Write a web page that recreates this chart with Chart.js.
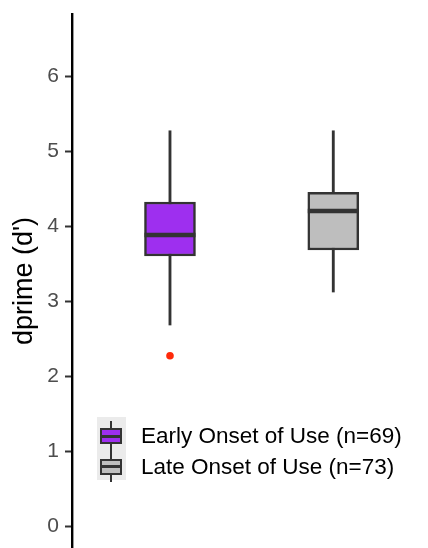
<!DOCTYPE html>
<html>
<head>
<meta charset="utf-8">
<script src="https://cdn.jsdelivr.net/npm/chart.js@4"></script>
<style>
  html, body { margin: 0; padding: 0; background: #fff; }
  #wrap { position: relative; width: 428px; height: 548px; }
  #legendBg { position: absolute; left: 97px; top: 417px; width: 29px; height: 63px; background: #ebebeb; }
  #legend { position: absolute; left: 97px; top: 421px; font-family: "Liberation Sans", Arial, sans-serif; font-size: 22.5px; color: #000; }
  .item { position: relative; height: 30.5px; display: flex; align-items: center; }
  .key { position: relative; width: 29px; height: 30.5px; }
  .key .whisk { position: absolute; left: 13px; top: 0; width: 2px; height: 30.5px; background: #333; }
  .key .box { position: absolute; left: 3px; top: 7px; width: 22px; height: 16px; box-sizing: border-box; border: 2px solid #333; }
  .key .med { position: absolute; left: 3px; top: 13.5px; width: 22px; height: 3px; background: #333; }
  .lab { margin-left: 15px; line-height: 30.5px; }
</style>
</head>
<body>
<div id="wrap">
  <canvas id="boxChart" width="428" height="548"></canvas>
  <div id="legendBg"></div>
  <div id="legend"></div>
</div>
<script>
// groups and their five-number summaries
const groups = ['Early Onset of Use (n=69)', 'Late Onset of Use (n=73)'];
const groupColors = ['#9e2fef', '#bebebe'];
const positions = [1, 2];
const lowerWhisker = [2.68, 3.12];
const q1 = [3.60, 3.68];
const medians = [3.88, 4.20];
const q3 = [4.32, 4.45];
const upperWhisker = [5.27, 5.27];
// points beyond the whiskers
const outlierPos = [1];
const outlierValues = [2.27];
const yTicks = [0, 1, 2, 3, 4, 5, 6];

const boxes = positions.map((x, i) => ({x: x, y: [q1[i], q3[i]]}));
const whiskers = positions.map((x, i) => ({x: x, y: [lowerWhisker[i], upperWhisker[i]]}));
const medianPts = positions.map((x, i) => ({x: x, y: medians[i]}));
const outlierPts = outlierPos.map((x, i) => ({x: x, y: outlierValues[i]}));

const ctx = document.getElementById('boxChart').getContext('2d');
const boxChart = new Chart(ctx, {
  type: 'bar',
  data: {
    datasets: [
      {
        type: 'line',
        label: 'median',
        data: medianPts,
        showLine: false,
        pointStyle: 'line',
        pointRadius: 25.5,
        pointBorderWidth: 4.5,
        pointBorderColor: '#333333',
        order: 0
      },
      {
        type: 'line',
        label: 'outlier',
        data: outlierPts,
        showLine: false,
        pointRadius: 3.8,
        pointBackgroundColor: '#ff2a0a',
        pointBorderWidth: 0,
        order: 0
      },
      {
        label: 'box',
        data: boxes,
        grouped: false,
        backgroundColor: groupColors,
        borderColor: '#333333',
        borderWidth: 2.5,
        borderSkipped: false,
        barThickness: 51,
        order: 1
      },
      {
        label: 'whisker',
        data: whiskers,
        grouped: false,
        backgroundColor: '#333333',
        borderWidth: 0,
        barThickness: 2.2,
        order: 2
      }
    ]
  },
  options: {
    responsive: false,
    animation: false,
    layout: { autoPadding: false, padding: { left: 0, top: 14, right: 0, bottom: 0 } },
    plugins: {
      legend: { display: false },
      tooltip: { enabled: false }
    },
    scales: {
      x: {
        type: 'linear',
        display: false,
        offset: false,
        min: 0.4,
        max: 2.58,
        grid: { offset: false }
      },
      y: {
        min: -0.293,
        max: 6.827,
        afterFit: function(scale) {
          scale.width = 72;
          scale.paddingTop = 0;
          scale.paddingBottom = 0;
        },
        afterBuildTicks: function(scale) { scale.ticks = yTicks.map(v => ({value: v})); },
        border: { display: true, color: '#000', width: 2.4 },
        grid: {
          display: true,
          drawOnChartArea: false,
          drawTicks: true,
          tickLength: 7,
          tickWidth: 2,
          tickColor: '#333333'
        },
        ticks: {
          color: '#4d4d4d',
          padding: 6,
          font: { family: '"Liberation Sans", Arial, sans-serif', size: 21 }
        },
        title: {
          display: true,
          text: "dprime (d')",
          color: '#000',
          padding: { top: 8, bottom: 0 },
          font: { family: '"Liberation Sans", Arial, sans-serif', size: 27 }
        }
      }
    }
  }
});

// legend keys drawn as small boxplot icons
const legend = document.getElementById('legend');
groups.forEach((name, i) => {
  const row = document.createElement('div');
  row.className = 'item';
  row.innerHTML = `
    <div class="key"><div class="whisk"></div><div class="box" style="background:${groupColors[i]}"></div><div class="med"></div></div>
    <span class="lab">${name}</span>
  `;
  legend.appendChild(row);
});
</script>
</body>
</html>
